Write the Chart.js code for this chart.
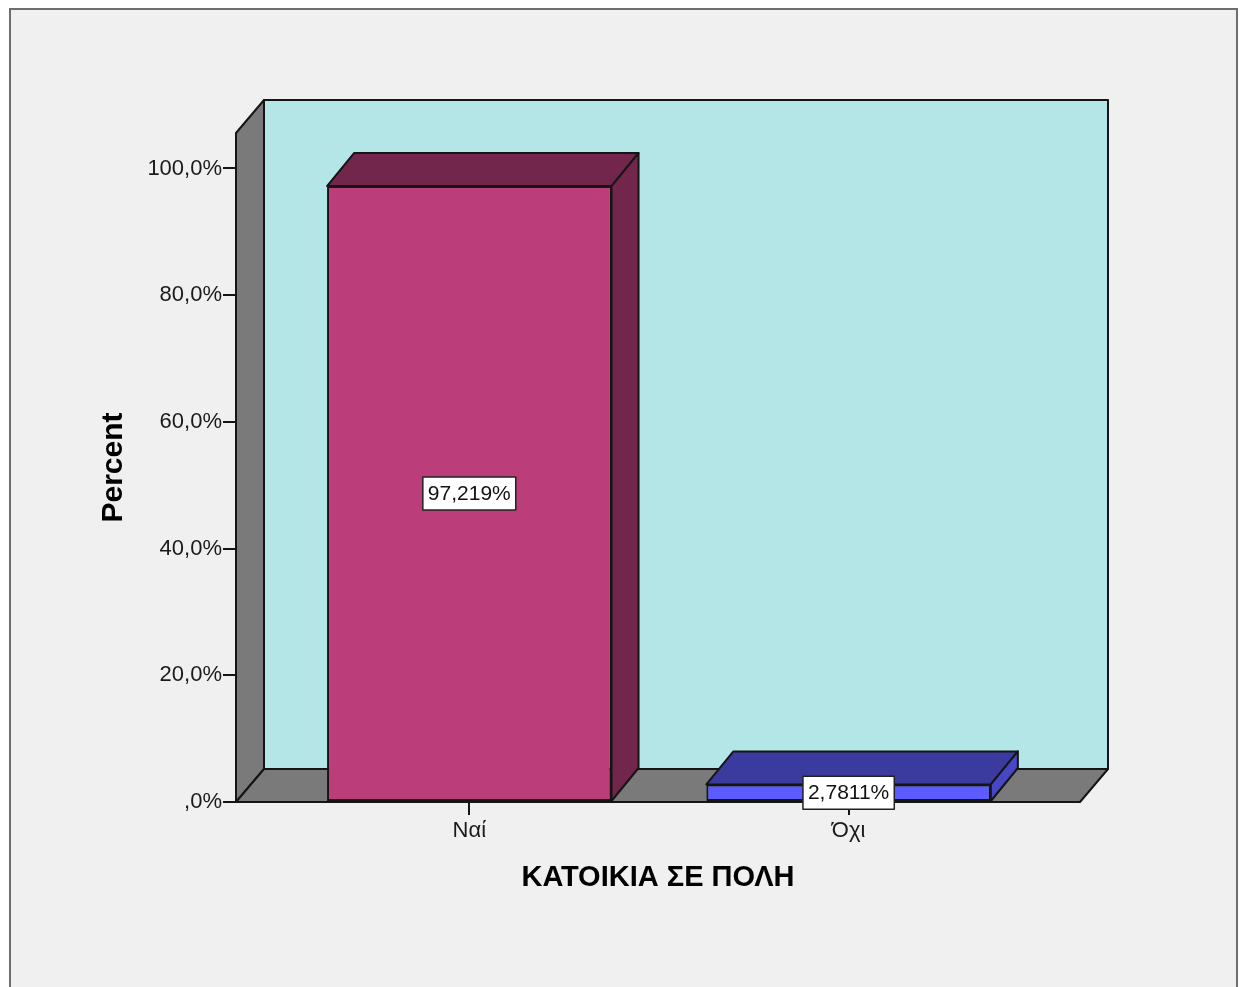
<!DOCTYPE html>
<html>
<head>
<meta charset="utf-8">
<script src="https://cdn.jsdelivr.net/npm/chart.js@4.4.1/dist/chart.umd.min.js"></script>
<style>
    html, body { margin: 0; padding: 0; background: #fff; }
    canvas { display: block; }
</style>
</head>
<body>
<canvas id="myChart" width="1245" height="987"></canvas>
<script>
const categories = ['Ναί', 'Όχι'];
const percents = [97.219, 2.7811];
const yTickValues = [0, 20, 40, 60, 80, 100];

const frontColors = ['#bb3e7a', '#5b5bff'];
const topColors = ['#73264c', '#3b3b9f'];
const sideColors = ['#73264c', '#4747c6'];

const FONT = "'Liberation Sans', Arial, sans-serif";
const EDGE = '#151515';

function fmtTick(v) {
    if (v === 0) return ',0%';
    return v.toFixed(1).replace('.', ',') + '%';
}
function fmtLabel(v) {
    return String(v).replace('.', ',') + '%';
}

function poly(ctx, pts, fill) {
    ctx.beginPath();
    ctx.moveTo(pts[0][0], pts[0][1]);
    for (let i = 1; i < pts.length; i++) ctx.lineTo(pts[i][0], pts[i][1]);
    ctx.closePath();
    ctx.fillStyle = fill;
    ctx.fill();
    ctx.lineWidth = 2;
    ctx.strokeStyle = EDGE;
    ctx.lineJoin = 'round';
    ctx.stroke();
}

const box3d = {
    id: 'box3d',
    beforeDraw(chart) {
        const ctx = chart.ctx;
        ctx.save();
        ctx.fillStyle = '#fff';
        ctx.fillRect(0, 0, chart.width, chart.height);
        ctx.fillStyle = '#f0f0f0';
        ctx.fillRect(10, 9, 1227, 1000);
        ctx.strokeStyle = '#6e6e6e';
        ctx.lineWidth = 2;
        ctx.strokeRect(10, 9, 1227, 1000);
        ctx.restore();
    },
    beforeDatasetsDraw(chart) {
        const ctx = chart.ctx;
        const { left, right, top } = chart.chartArea;
        const base = chart.scales.y.getPixelForValue(0);
        const dx = 28, dy = -33;
        ctx.save();
        poly(ctx, [[left + dx, top + dy], [right + dx, top + dy], [right + dx, base + dy], [left + dx, base + dy]], '#b4e6e7');
        poly(ctx, [[left, top], [left + dx, top + dy], [left + dx, base + dy], [left, base]], '#7a7a7a');
        poly(ctx, [[left, base], [left + dx, base + dy], [right + dx, base + dy], [right, base]], '#7a7a7a');
        ctx.restore();
    },
    afterDatasetsDraw(chart) {
        const ctx = chart.ctx;
        const meta = chart.getDatasetMeta(0);
        const dx = 27, dy = -33;
        ctx.save();
        meta.data.forEach((el, i) => {
            const x0 = el.x - el.width / 2, x1 = el.x + el.width / 2;
            const y = el.y, b = el.base;
            poly(ctx, [[x0, y], [x0 + dx, y + dy], [x1 + dx, y + dy], [x1, y]], topColors[i]);
            poly(ctx, [[x1, y], [x1 + dx, y + dy], [x1 + dx, b + dy], [x1, b]], sideColors[i]);
        });
        // value boxes
        ctx.font = '21px ' + FONT;
        ctx.textAlign = 'center';
        ctx.textBaseline = 'middle';
        meta.data.forEach((el, i) => {
            const txt = fmtLabel(percents[i]);
            const w = ctx.measureText(txt).width + 10;
            const h = 33;
            const cx = el.x, cy = (el.y + el.base) / 2;
            ctx.fillStyle = '#fff';
            ctx.fillRect(cx - w / 2, cy - h / 2, w, h);
            ctx.strokeStyle = '#222';
            ctx.lineWidth = 1.5;
            ctx.strokeRect(cx - w / 2, cy - h / 2, w, h);
            ctx.fillStyle = '#111';
            ctx.fillText(txt, cx, cy + 1);
        });
        ctx.restore();
    }
};

const ctx = document.getElementById('myChart').getContext('2d');
const chart = new Chart(ctx, {
    type: 'bar',
    data: {
        datasets: [{
            label: 'Percent',
            data: percents.map((v, i) => ({ x: i, y: v })),
            backgroundColor: frontColors,
            borderColor: EDGE,
            borderWidth: 2,
            borderSkipped: false,
            categoryPercentage: 1,
            barPercentage: 0.75,
        }]
    },
    options: {
        responsive: false,
        animation: false,
        devicePixelRatio: 1,
        layout: {
            padding: { left: 92, top: 133, right: 165, bottom: 88 },
        },
        plugins: {
            legend: { display: false },
            tooltip: { enabled: false },
        },
        scales: {
            x: {
                type: 'linear',
                offset: false,
                min: -0.615,
                max: categories.length - 1 + 0.61,
                afterBuildTicks(scale) {
                    scale.ticks = categories.map((c, i) => ({ value: i }));
                },
                afterFit(scale) { scale.height = 97; },
                border: { display: false },
                grid: {
                    offset: false,
                    drawOnChartArea: false,
                    tickLength: 13,
                    tickColor: EDGE,
                    lineWidth: 2,
                },
                ticks: {
                    padding: 3,
                    color: '#1a1a1a',
                    font: { family: FONT, size: 22 },
                    callback: (v) => categories[v],
                },
                title: {
                    display: true,
                    text: 'ΚΑΤΟΙΚΙΑ ΣΕ ΠΟΛΗ',
                    color: '#000',
                    font: { family: FONT, size: 29, weight: 'bold' },
                },
            },
            y: {
                min: 0,
                max: 105.6,
                afterBuildTicks(scale) {
                    scale.ticks = yTickValues.map(v => ({ value: v }));
                },
                afterFit(scale) { scale.width = 144; },
                border: { display: false },
                grid: {
                    drawOnChartArea: false,
                    tickLength: 13,
                    tickColor: EDGE,
                    lineWidth: 2,
                },
                ticks: {
                    padding: 1,
                    color: '#1a1a1a',
                    font: { family: FONT, size: 22 },
                    callback: (v) => fmtTick(v),
                },
                title: {
                    display: true,
                    text: 'Percent',
                    color: '#000',
                    font: { family: FONT, size: 30, weight: 'bold' },
                },
            },
        },
    },
    plugins: [box3d],
});
</script>
</body>
</html>
